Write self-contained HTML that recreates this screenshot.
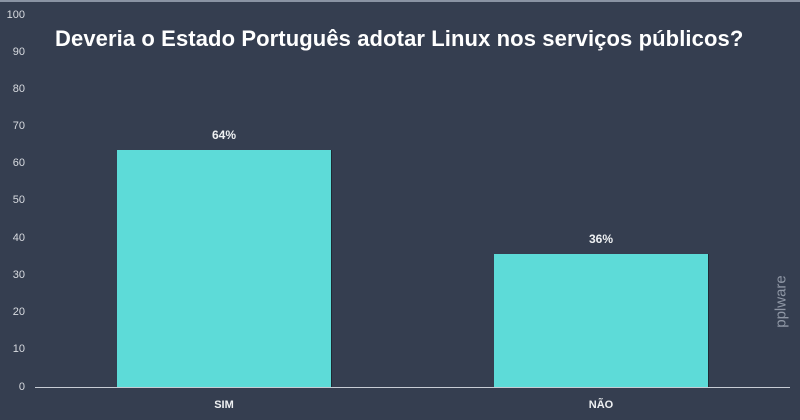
<!DOCTYPE html>
<html><head><meta charset="utf-8"><style>
body{margin:0;width:800px;height:420px;background:#353e50;overflow:hidden;position:relative;font-family:"Liberation Sans",sans-serif}
.t{position:absolute;color:#d8dbe0;font-size:11px;right:775px;text-align:right}
.bar{position:absolute;background:#5ddbd8;box-shadow:1px 0 0 #1e2a33}
.lbl{position:absolute;color:#eef0f2;font-size:12px;font-weight:bold;text-align:center}
</style></head><body>
<div style="position:absolute;left:0;top:0;width:800px;height:2px;background:#8a93a3"></div>
<div class="t" style="top:9px">100</div>
<div class="t" style="top:46px">90</div>
<div class="t" style="top:83px">80</div>
<div class="t" style="top:120px">70</div>
<div class="t" style="top:157px">60</div>
<div class="t" style="top:194px">50</div>
<div class="t" style="top:232px">40</div>
<div class="t" style="top:269px">30</div>
<div class="t" style="top:306px">20</div>
<div class="t" style="top:343px">10</div>
<div class="t" style="top:381px">0</div>
<div style="position:absolute;left:55px;top:26px;color:#fff;font-size:22px;font-weight:bold;white-space:nowrap;letter-spacing:0.1px">Deveria o Estado Português adotar Linux nos serviços públicos?</div>
<div class="bar" style="left:117px;top:150px;width:214px;height:238px"></div>
<div class="bar" style="left:494px;top:254px;width:214px;height:134px"></div>
<div class="lbl" style="left:117px;width:214px;top:128px">64%</div>
<div class="lbl" style="left:494px;width:214px;top:232px">36%</div>
<div style="position:absolute;left:35px;top:387px;width:755px;height:1px;background:#c7ccd4"></div>
<div class="lbl" style="left:117px;width:214px;top:399px;font-size:11px">SIM</div>
<div class="lbl" style="left:494px;width:214px;top:399px;font-size:11px">NÃO</div>
<div style="position:absolute;left:748px;top:293px;width:66px;transform:rotate(-90deg);color:#8f97a5;font-size:15px;text-align:center">pplware</div>
</body></html>
